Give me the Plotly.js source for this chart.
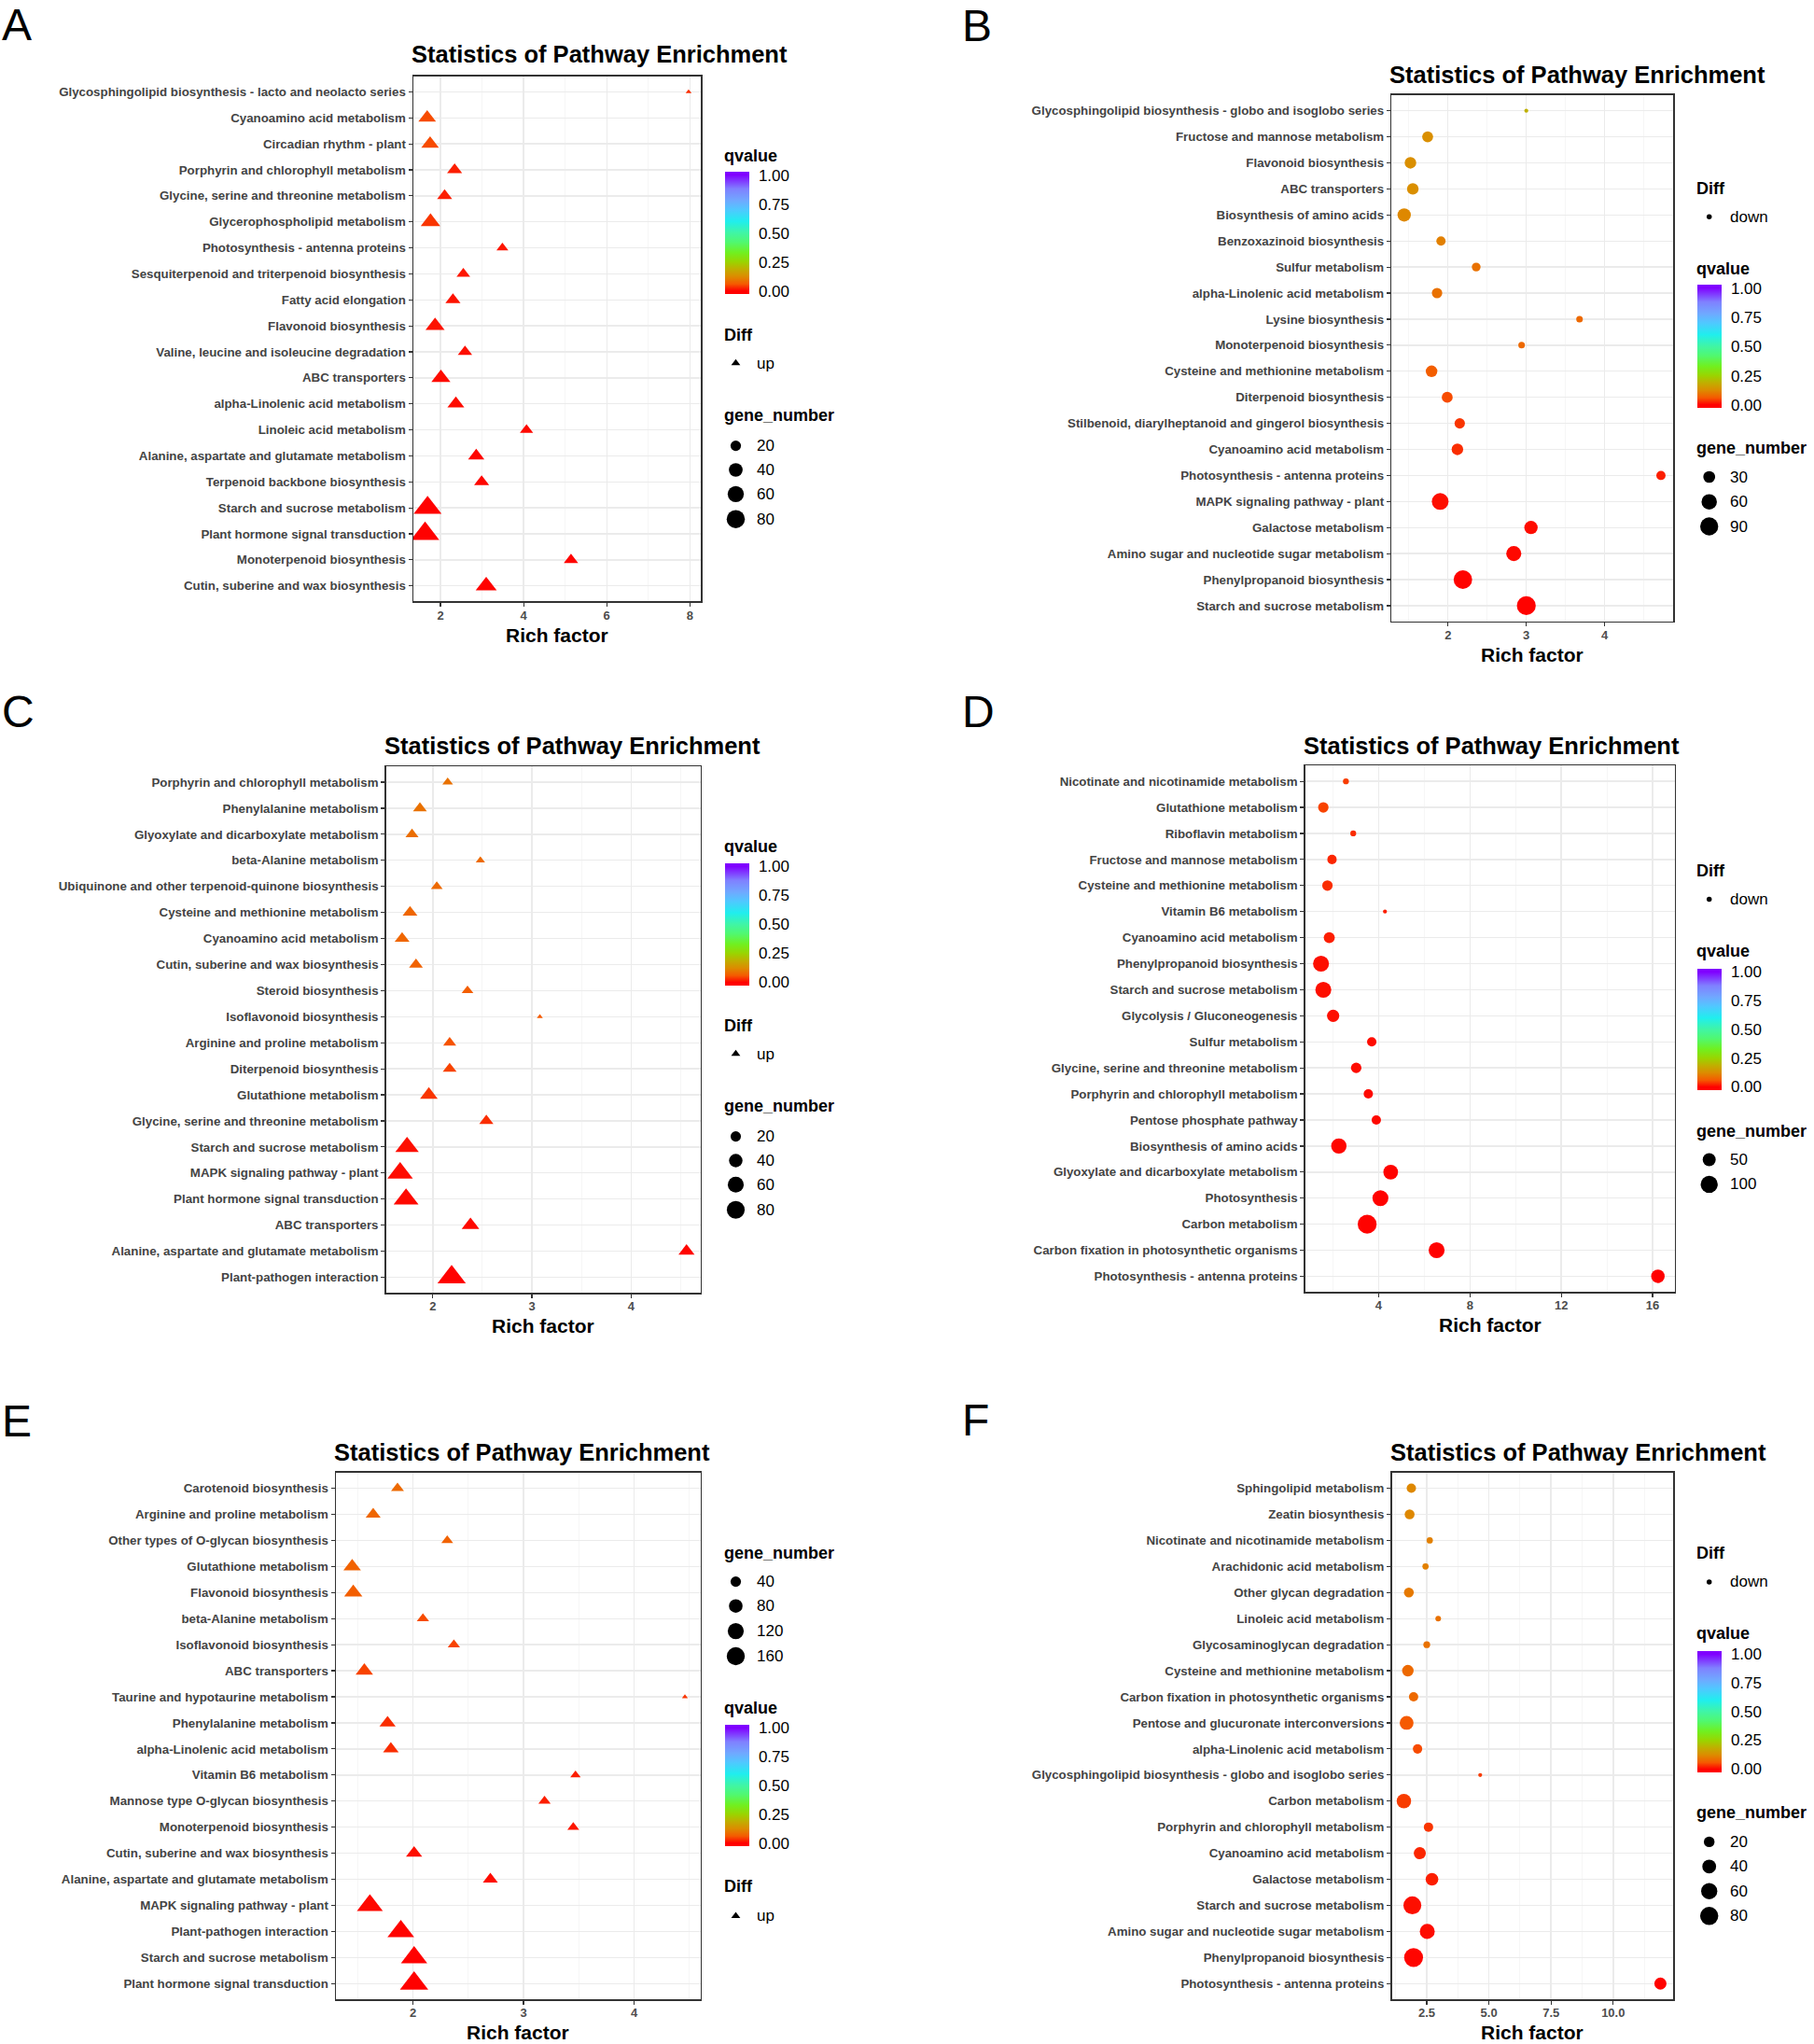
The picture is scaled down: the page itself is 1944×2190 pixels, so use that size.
<!DOCTYPE html>
<html>
<head>
<meta charset="utf-8">
<script src="https://cdn.plot.ly/plotly-3.0.1.min.js"></script>
<style>html,body{margin:0;padding:0;background:#fff;}</style>
</head>
<body>
<div id="chart" style="width:1944px;height:2190px;"></div>
<script>
// ---------------- DATA ----------------
const pathwaysA = ["Glycosphingolipid biosynthesis - lacto and neolacto series","Cyanoamino acid metabolism","Circadian rhythm - plant","Porphyrin and chlorophyll metabolism","Glycine, serine and threonine metabolism","Glycerophospholipid metabolism","Photosynthesis - antenna proteins","Sesquiterpenoid and triterpenoid biosynthesis","Fatty acid elongation","Flavonoid biosynthesis","Valine, leucine and isoleucine degradation","ABC transporters","alpha-Linolenic acid metabolism","Linoleic acid metabolism","Alanine, aspartate and glutamate metabolism","Terpenoid backbone biosynthesis","Starch and sucrose metabolism","Plant hormone signal transduction","Monoterpenoid biosynthesis","Cutin, suberine and wax biosynthesis"];
const richA = [7.97,1.68,1.75,2.34,2.10,1.76,3.49,2.55,2.30,1.87,2.59,2.01,2.37,4.07,2.86,2.99,1.69,1.63,5.14,3.10];
const qvalueA = [0.03,0.05,0.05,0.02,0.02,0.035,0.015,0.015,0.012,0.012,0.01,0.008,0.008,0.006,0.004,0.004,0.001,0.0005,0.002,0.001];
const genesA = [4,27,27,18,18,35,10,14,18,33,16,33,24,13,22,18,85,88,16,42];
const sizeBreaksA = [20,40,60,80];
const diffA = "up";

const pathwaysB = ["Glycosphingolipid biosynthesis - globo and isoglobo series","Fructose and mannose metabolism","Flavonoid biosynthesis","ABC transporters","Biosynthesis of amino acids","Benzoxazinoid biosynthesis","Sulfur metabolism","alpha-Linolenic acid metabolism","Lysine biosynthesis","Monoterpenoid biosynthesis","Cysteine and methionine metabolism","Diterpenoid biosynthesis","Stilbenoid, diarylheptanoid and gingerol biosynthesis","Cyanoamino acid metabolism","Photosynthesis - antenna proteins","MAPK signaling pathway - plant","Galactose metabolism","Amino sugar and nucleotide sugar metabolism","Phenylpropanoid biosynthesis","Starch and sucrose metabolism"];
const richB = [3.00,1.74,1.52,1.55,1.44,1.91,2.36,1.86,3.68,2.94,1.79,1.99,2.15,2.12,4.72,1.90,3.06,2.84,2.19,3.00];
const qvalueB = [0.19,0.13,0.13,0.13,0.12,0.11,0.09,0.09,0.08,0.08,0.065,0.05,0.035,0.03,0.02,0.01,0.008,0.005,0.002,0.001];
const genesB = [3,24,28,28,41,15,13,21,6,6,28,24,21,28,15,74,41,56,95,100];
const sizeBreaksB = [30,60,90];
const diffB = "down";

const pathwaysC = ["Porphyrin and chlorophyll metabolism","Phenylalanine metabolism","Glyoxylate and dicarboxylate metabolism","beta-Alanine metabolism","Ubiquinone and other terpenoid-quinone biosynthesis","Cysteine and methionine metabolism","Cyanoamino acid metabolism","Cutin, suberine and wax biosynthesis","Steroid biosynthesis","Isoflavonoid biosynthesis","Arginine and proline metabolism","Diterpenoid biosynthesis","Glutathione metabolism","Glycine, serine and threonine metabolism","Starch and sucrose metabolism","MAPK signaling pathway - plant","Plant hormone signal transduction","ABC transporters","Alanine, aspartate and glutamate metabolism","Plant-pathogen interaction"];
const richC = [2.15,1.87,1.79,2.48,2.04,1.77,1.69,1.83,2.35,3.08,2.17,2.17,1.96,2.54,1.74,1.67,1.73,2.38,4.56,2.19];
const qvalueC = [0.09,0.09,0.085,0.08,0.08,0.075,0.075,0.07,0.065,0.06,0.055,0.045,0.035,0.03,0.01,0.008,0.006,0.005,0.003,0.001];
const genesC = [8,15,13,6,10,18,18,15,10,4,13,15,28,16,58,71,67,28,22,92];
const sizeBreaksC = [20,40,60,80];
const diffC = "up";

const pathwaysD = ["Nicotinate and nicotinamide metabolism","Glutathione metabolism","Riboflavin metabolism","Fructose and mannose metabolism","Cysteine and methionine metabolism","Vitamin B6 metabolism","Cyanoamino acid metabolism","Phenylpropanoid biosynthesis","Starch and sucrose metabolism","Glycolysis / Gluconeogenesis","Sulfur metabolism","Glycine, serine and threonine metabolism","Porphyrin and chlorophyll metabolism","Pentose phosphate pathway","Biosynthesis of amino acids","Glyoxylate and dicarboxylate metabolism","Photosynthesis","Carbon metabolism","Carbon fixation in photosynthetic organisms","Photosynthesis - antenna proteins"];
const richD = [2.57,1.58,2.89,1.96,1.76,4.28,1.84,1.48,1.58,2.01,3.70,3.02,3.55,3.90,2.26,4.53,4.08,3.50,6.54,16.23];
const qvalueD = [0.04,0.045,0.03,0.025,0.03,0.02,0.02,0.01,0.01,0.01,0.008,0.008,0.006,0.005,0.004,0.002,0.001,0.001,0.0005,0.0001];
const genesD = [7,28,7,21,28,5,33,84,84,43,21,28,21,21,76,69,84,128,84,55];
const sizeBreaksD = [50,100];
const diffD = "down";

const pathwaysE = ["Carotenoid biosynthesis","Arginine and proline metabolism","Other types of O-glycan biosynthesis","Glutathione metabolism","Flavonoid biosynthesis","beta-Alanine metabolism","Isoflavonoid biosynthesis","ABC transporters","Taurine and hypotaurine metabolism","Phenylalanine metabolism","alpha-Linolenic acid metabolism","Vitamin B6 metabolism","Mannose type O-glycan biosynthesis","Monoterpenoid biosynthesis","Cutin, suberine and wax biosynthesis","Alanine, aspartate and glutamate metabolism","MAPK signaling pathway - plant","Plant-pathogen interaction","Starch and sucrose metabolism","Plant hormone signal transduction"];
const richE = [1.86,1.64,2.31,1.45,1.46,2.09,2.37,1.56,4.46,1.77,1.80,3.47,3.19,3.45,2.01,2.70,1.61,1.89,2.01,2.01];
const qvalueE = [0.08,0.075,0.07,0.07,0.065,0.05,0.045,0.045,0.035,0.03,0.03,0.02,0.02,0.015,0.01,0.008,0.005,0.002,0.001,0.0005];
const genesE = [25,36,20,54,60,22,22,54,8,44,40,15,22,20,44,36,145,156,150,180];
const sizeBreaksE = [40,80,120,160];
const diffE = "up";

const pathwaysF = ["Sphingolipid metabolism","Zeatin biosynthesis","Nicotinate and nicotinamide metabolism","Arachidonic acid metabolism","Other glycan degradation","Linoleic acid metabolism","Glycosaminoglycan degradation","Cysteine and methionine metabolism","Carbon fixation in photosynthetic organisms","Pentose and glucuronate interconversions","alpha-Linolenic acid metabolism","Glycosphingolipid biosynthesis - globo and isoglobo series","Carbon metabolism","Porphyrin and chlorophyll metabolism","Cyanoamino acid metabolism","Galactose metabolism","Starch and sucrose metabolism","Amino sugar and nucleotide sugar metabolism","Phenylpropanoid biosynthesis","Photosynthesis - antenna proteins"];
const richF = [1.88,1.81,2.62,2.45,1.78,2.96,2.50,1.74,1.97,1.69,2.13,4.65,1.58,2.57,2.22,2.71,1.92,2.52,1.97,11.9];
const qvalueF = [0.12,0.12,0.11,0.11,0.10,0.09,0.09,0.08,0.08,0.06,0.05,0.04,0.04,0.035,0.025,0.02,0.01,0.008,0.003,0.002];
const genesF = [14,16,5,5,16,4,6,25,14,40,14,3,45,14,28,32,77,49,88,28];
const sizeBreaksF = [20,40,60,80];
const diffF = "down";

const qvalueTicks = [0, 0.25, 0.5, 0.75, 1];
const qvalueTickText = ["0.00","0.25","0.50","0.75","1.00"];

// ---------------- STYLE / LAYOUT ----------------
const W = 1944, H = 2190;
const FONT = "Liberation Sans, Arial, Helvetica, sans-serif";
const PXU = 3.2;      // pixels per ggplot size unit
const TRI = 1.3;      // triangle scaling in plotly
const BASE_SCALE = [[0,'#FF0000'],[0.06,'#F55A00'],[0.125,'#DC8C00'],[0.19,'#BFB000'],[0.25,'#9AD400'],[0.33,'#70F020'],[0.42,'#50F870'],[0.5,'#40F5A5'],[0.6,'#20EEEE'],[0.7,'#50C8FF'],[0.78,'#70A8FF'],[0.88,'#8080FF'],[1,'#8000FF']];
const EXT = 0.0264;   // ggplot colourbar: tick range inset from bar ends
const QSCALE = [[0,'#FF0000']].concat(BASE_SCALE.map(s => [(s[0] + EXT) / (1 + 2 * EXT), s[1]])).concat([[1,'#8000FF']]);

function diam(g, gmin, gmax) {
  return PXU * (1 + 5 * Math.sqrt(Math.max(0, (g - gmin) / (gmax - gmin))) + 0.33);
}

const LA = {lx:777, kx:788.5, tx:812};
const LB = {lx:1819.3, kx:1831.7, tx:1855};

const panels = [
  {letter:'A', paths:pathwaysA, rich:richA, q:qvalueA, genes:genesA, breaks:sizeBreaksA, diff:diffA,
   box:[443,751,81.7,644.4], xr:[1.348,8.263], dtick:2, minor:1, fmt:'', titleY:58.3, letterXY:[0,26.9],
   leg:LA, qT:166.7, cb:[184.3,315.7], dT:359.2, dK:389, gT:445, gK:[477.6,503.5,529.3,556.2]},
  {letter:'B', paths:pathwaysB, rich:richB, q:qvalueB, genes:genesB, breaks:sizeBreaksB, diff:diffB,
   box:[1491.3,1793.4,101.9,665.7], xr:[1.279,4.88], dtick:1, minor:0.5, fmt:'', titleY:80.4, letterXY:[1028.7,27.9],
   leg:LB, qT:288.3, cb:[305.7,437.3], dT:201.7, dK:232.3, gT:480, gK:[511,537.7,564]},
  {letter:'C', paths:pathwaysC, rich:richC, q:qvalueC, genes:genesC, breaks:sizeBreaksC, diff:diffC,
   box:[413.7,750.6,821.3,1385.2], xr:[1.528,4.70], dtick:1, minor:0.5, fmt:'', titleY:798.7, letterXY:[0,762.9],
   leg:LA, qT:906.7, cb:[924.3,1055.7], dT:1099.2, dK:1129, gT:1185, gK:[1217.6,1243.5,1269.3,1296.2]},
  {letter:'D', paths:pathwaysD, rich:richD, q:qvalueD, genes:genesD, breaks:sizeBreaksD, diff:diffD,
   box:[1398.7,1794.6,820.4,1384.2], xr:[0.785,16.96], dtick:4, minor:2, fmt:'', titleY:798.7, letterXY:[1028.7,762.9],
   leg:LB, qT:1019.2, cb:[1037.5,1167.9], dT:932.8, dK:963.6, gT:1211.6, gK:[1242.5,1268.9]},
  {letter:'E', paths:pathwaysE, rich:richE, q:qvalueE, genes:genesE, breaks:sizeBreaksE, diff:diffE,
   box:[360,750.6,1577.8,2142], xr:[1.303,4.60], dtick:1, minor:0.5, fmt:'', titleY:1556.1, letterXY:[0,1522.8],
   leg:LA, qT:1829.6, cb:[1847.7,1978.1], dT:2021.2, dK:2052.8, gT:1664, gK:[1694.6,1720.7,1747.6,1774.5]},
  {letter:'F', paths:pathwaysF, rich:richF, q:qvalueF, genes:genesF, breaks:sizeBreaksF, diff:diffF,
   box:[1491.5,1793.4,1577.8,2142], xr:[1.092,12.425], dtick:2.5, minor:1.25, fmt:'.1f', titleY:1556.1, letterXY:[1028.7,1521.8],
   leg:LB, qT:1750.3, cb:[1768.5,1898.8], dT:1664, dK:1694.9, gT:1941.6, gK:[1973.4,1999.8,2026.2,2052.8]}
];

const traces = [];
const layout = {
  width: W, height: H, autosize: false,
  margin: {l:0, r:0, t:0, b:0, pad:0},
  paper_bgcolor: '#FFFFFF', plot_bgcolor: 'rgba(0,0,0,0)',
  showlegend: false,
  font: {family: FONT, color: '#000'},
  annotations: []
};

const px = v => v / W;
const py = v => 1 - v / H;
const AOFF = 3; // annotation box inset

function ann(text, x, y, size, opts) {
  layout.annotations.push(Object.assign({
    text: text, x: px(x), y: py(y), xref: 'paper', yref: 'paper',
    xanchor: 'left', yanchor: 'middle', showarrow: false,
    font: {family: FONT, size: size, color: '#000'}
  }, opts || {}));
}

panels.forEach((p, k) => {
  const i = k + 1;
  const xa = 'xaxis' + i, ya = 'yaxis' + i;
  const ca = 'coloraxis' + (i === 1 ? '' : i);
  const n = p.paths.length;
  const gmin = Math.min.apply(null, p.genes), gmax = Math.max.apply(null, p.genes);
  const tri = p.diff === 'up';
  const L = p.leg;

  layout[xa] = {
    domain: [px(p.box[0]), px(p.box[1])], anchor: 'y' + i,
    range: p.xr, autorange: false, tick0: 0, dtick: p.dtick, tickformat: p.fmt,
    ticks: 'outside', ticklen: 4, tickwidth: 1.2, tickcolor: '#333333',
    ticklabelstandoff: -2,
    showline: true, mirror: true, linecolor: '#333333', linewidth: 1.5,
    showgrid: true, gridcolor: '#EBEBEB', gridwidth: 1.4, zeroline: false,
    minor: {dtick: p.minor, tick0: 0, showgrid: true, gridcolor: '#F4F4F4', gridwidth: 0.8},
    tickfont: {family: FONT, size: 13, color: '#4D4D4D', weight: 'bold'},
    fixedrange: true
  };
  layout[ya] = {
    domain: [py(p.box[3]), py(p.box[2])], anchor: 'x' + i,
    type: 'category', categoryorder: 'array', categoryarray: p.paths,
    range: [n - 1 + 0.6, -0.6], autorange: false, dtick: 1,
    ticks: 'outside', ticklen: 4, tickwidth: 1.2, tickcolor: '#333333',
    showline: true, mirror: true, linecolor: '#333333', linewidth: 1.5,
    showgrid: true, gridcolor: '#EBEBEB', gridwidth: 1.4, zeroline: false,
    tickfont: {family: FONT, size: 13.3, color: '#444444', weight: 'bold'},
    fixedrange: true
  };
  layout[ca] = {
    cmin: -EXT, cmax: 1 + EXT, colorscale: QSCALE, showscale: true,
    colorbar: {
      x: px(L.lx), xanchor: 'left', xref: 'paper', xpad: 0,
      y: py((p.cb[0] + p.cb[1]) / 2), yanchor: 'middle', yref: 'paper', ypad: 0,
      len: (p.cb[1] - p.cb[0]) / H, lenmode: 'fraction',
      thickness: 26, thicknessmode: 'pixels', outlinewidth: 0,
      tickmode: 'array', tickvals: qvalueTicks, ticktext: qvalueTickText,
      ticks: 'outside', ticklen: 7, tickwidth: 1, tickcolor: 'rgba(0,0,0,0)',
      tickfont: {family: FONT, size: 17, color: '#000'},
      title: {text: ''}
    }
  };

  const sizes = p.genes.map(g => diam(g, gmin, gmax) * (tri ? TRI : 1));
  traces.push({
    type: 'scatter', mode: 'markers', x: p.rich, y: p.paths,
    xaxis: 'x' + i, yaxis: 'y' + i, hoverinfo: 'skip', showlegend: false,
    marker: {symbol: tri ? 'triangle-up' : 'circle', size: sizes, color: p.q,
             coloraxis: ca, line: {width: 0}, opacity: 1}
  });

  // legend keys on overlay pixel axis
  traces.push({
    type: 'scatter', mode: 'markers', xaxis: 'x7', yaxis: 'y7', hoverinfo: 'skip', showlegend: false,
    x: p.breaks.map(() => L.kx), y: p.gK,
    marker: {symbol: 'circle', color: '#000', opacity: 1, size: p.breaks.map(b => diam(b, gmin, gmax)), line: {width: 0}}
  });
  traces.push({
    type: 'scatter', mode: 'markers', xaxis: 'x7', yaxis: 'y7', hoverinfo: 'skip', showlegend: false,
    x: [L.kx], y: [p.dK],
    marker: {symbol: tri ? 'triangle-up' : 'circle', color: '#000', opacity: 1, size: tri ? 8.5 : 5.5, line: {width: 0}}
  });

  // text
  ann(p.letter, p.letterXY[0], p.letterXY[1], 48);
  ann('Statistics of Pathway Enrichment', p.box[0] - AOFF - 1, p.titleY, 25.5, {font: {family: FONT, size: 25.5, color: '#000', weight: 'bold'}});
  ann('Rich factor', (p.box[0] + p.box[1]) / 2, p.box[3] + 35.6, 21, {xanchor: 'center', font: {family: FONT, size: 21, color: '#000', weight: 'bold'}});
  const tf = {family: FONT, size: 18, color: '#000', weight: 'bold'};
  ann('qvalue', L.lx - AOFF, p.qT, 18, {font: tf});
  ann('Diff', L.lx - AOFF, p.dT, 18, {font: tf});
  ann('gene_number', L.lx - AOFF, p.gT, 18, {font: tf});
  ann(p.diff, L.tx - AOFF, p.dK, 17);
  p.breaks.forEach((b, j) => ann(String(b), L.tx - AOFF, p.gK[j], 17));
});

layout.xaxis7 = {domain: [0, 1], range: [0, W], visible: false, fixedrange: true, anchor: 'y7'};
layout.yaxis7 = {domain: [0, 1], range: [H, 0], visible: false, fixedrange: true, anchor: 'x7'};

Plotly.newPlot('chart', traces, layout, {displayModeBar: false, staticPlot: true});
</script>
</body>
</html>
